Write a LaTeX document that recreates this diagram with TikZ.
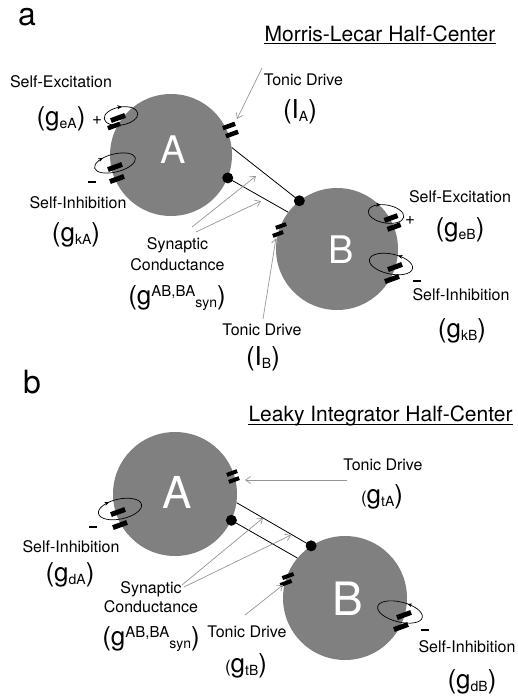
\documentclass[tikz,border=0pt]{standalone}
\usepackage{fontspec}
\setmainfont{TeX Gyre Heros}
\usetikzlibrary{arrows.meta,decorations.markings}

\definecolor{cellgray}{RGB}{128,128,128}
\definecolor{arrowgray}{RGB}{150,150,150}

% subscripts / superscripts set beside the big conductance letters
\newcommand\gsub[1]{\raisebox{-3pt}{\fontsize{14}{14}\selectfont #1}}
\newcommand\gsup[1]{\raisebox{8pt}{\fontsize{15}{15}\selectfont #1}}
\newcommand\lowparen{{\fontsize{17}{17}\selectfont(}}

\begin{document}
\begin{tikzpicture}[x=1pt,y=-1pt,
  cell/.style={circle, fill=cellgray, minimum size=122pt, inner sep=0},
  cellname/.style={text=white, inner sep=0, anchor=base},
  panel/.style={font=\fontsize{32}{32}\selectfont, inner sep=0, anchor=base},
  heading/.style={font=\fontsize{21}{24}\selectfont, inner sep=0, anchor=base},
  lbl/.style={font=\fontsize{16}{18}\selectfont, inner sep=0, anchor=base},
  glbl/.style={font=\fontsize{26}{28}\selectfont, inner sep=0, anchor=base},
  sign/.style={font=\fontsize{17}{17}\selectfont, inner sep=0},
  minus/.style={fill=black, minimum width=8pt, minimum height=2.6pt, inner sep=0},
  chan/.style={fill=black, rectangle, minimum width=13pt, minimum height=4.5pt, inner sep=0, rotate=20},
  syn/.style={circle, fill=black, minimum size=11pt, inner sep=0},
  link/.style={line width=0.8pt},
  pointer/.style={draw=arrowgray, line width=0.7pt, -{Straight Barb[length=5pt,width=7pt]}},
  loopline/.style={line width=0.7pt, postaction={decorate}},
  fwd/.style={decoration={markings, mark=at position #1 with {\arrow{Stealth[length=4.5pt,width=4pt]}}}},
  bwd/.style={decoration={markings, mark=at position #1 with {\arrowreversed{Stealth[length=4.5pt,width=4pt]}}}},
]
\useasboundingbox (0,0) rectangle (517,696);

% ================= panel a : Morris-Lecar =================
\node[panel] (pa) at (27,25) {a};
\node[heading] (ta) at (380,41) {Morris-Lecar Half-Center};
\draw[line width=0.9pt] ([yshift=-2.5pt]ta.base west) -- ([yshift=-2.5pt]ta.base east);

\node[cell] (A) at (171,155) {};
\node[cell] (B) at (337,249) {};
\node[cellname, font=\fontsize{38}{38}\selectfont] (An) at (173.5,163) {A};
\node[cellname, font=\fontsize{38}{38}\selectfont] (Bn) at (341,263) {B};

% reciprocal synapses
\node[syn] (dA) at (A.-22) {};
\node[syn] (dB) at (B.128) {};
\draw[link] (A.7.5) -- (dB.center);
\draw[link] (dA.center) -- (B.143);

% channels on the membranes
\node[chan] (tA1) at (229,126) {};
\node[chan] (tA2) at (232,134) {};
\node[chan, minimum width=15pt, minimum height=5pt] (eA1) at (118,118) {};
\node[chan] (eA2) at (114,126) {};
\node[chan, minimum width=15pt, minimum height=5pt] (kA1) at (115,167) {};
\node[chan, minimum width=15pt, minimum height=5pt] (kA2) at (117,179) {};
\node[chan, minimum width=11pt, minimum height=4pt] (tB1) at (281,226) {};
\node[chan, minimum width=11pt, minimum height=4pt] (tB2) at (278,234) {};
\node[chan, minimum width=14pt, minimum height=5pt] (eB1) at (391,218) {};
\node[chan, minimum width=14pt, minimum height=5pt] (eB2) at (394,227) {};
\node[chan, minimum width=15pt, minimum height=5pt] (kB1) at (395,267) {};
\node[chan, minimum width=15pt, minimum height=5pt] (kB2) at (392,279) {};

% self-feedback loops
\draw[loopline, bwd=0.22, shift={(121,116)}, rotate=10] (0,0) ellipse [x radius=17pt, y radius=9pt];
\draw[loopline, bwd=0.36, shift={(115,163)}, rotate=14] (0,0) ellipse [x radius=21pt, y radius=9pt];
\draw[loopline, bwd=0.33, shift={(386,214)}, rotate=-10] (0,0) ellipse [x radius=18pt, y radius=9pt];
\draw[loopline, fwd=0.2, shift={(391,264)}, rotate=-12] (0,0) ellipse [x radius=22pt, y radius=10pt];

\node[sign] (pA) at (97,120) {+};
\node[minus] (mA) at (92,182) {};
\node[sign] (pB) at (410,220) {+};
\node[minus] (mB) at (417,281) {};

% labels
\node[lbl] (seA) at (61,87) {Self-Excitation};
\node[glbl] (geA) at (61,125) {(g\gsub{eA})};
\node[lbl] (siA) at (78,208) {Self-Inhibition};
\node[glbl] (gkA) at (76,241) {(g\gsub{kA})};
\node[lbl] (tdA) at (303.5,85) {Tonic Drive};
\node[glbl] (IA) at (300,118) {(I\gsub{A})};
\node[lbl] (sy1) at (177.5,249) {Synaptic};
\node[lbl] (sy2) at (177.5,270) {Conductance};
\node[glbl] (gsy) at (177,304) {(g\gsup{AB,BA}\gsub{syn})};
\node[lbl] (tdB) at (262,335) {Tonic Drive};
\node[glbl] (IB) at (263,365) {(I\gsub{B})};
\node[lbl] (seB) at (460,202) {Self-Excitation};
\node[glbl] (geB) at (460,236) {(g\gsub{eB})};
\node[lbl] (siB) at (461,300) {Self-Inhibition};
\node[glbl] (gkB) at (462,337) {(g\gsub{kB})};

% gray pointers
\coordinate (paTA0) at (262,68);
\coordinate (paTA1) at (237,119);
\coordinate (paS0) at (192,227);
\coordinate (paS1) at (256,176);
\coordinate (paS2) at (196,232);
\coordinate (paS3) at (261,201);
\coordinate (paTB0) at (263,319);
\coordinate (paTB1) at (276,238);
\draw[pointer] (paTA0) -- (paTA1);
\draw[pointer] (paS0) -- (paS1);
\draw[pointer] (paS2) -- (paS3);
\draw[pointer] (paTB0) -- (paTB1);

% ================= panel b : leaky integrator =================
\node[panel] (pb) at (32,393) {b};
\node[heading] (tb) at (380.5,421) {Leaky Integrator Half-Center};
\draw[line width=0.9pt] ([yshift=-3.5pt]tb.base west) -- ([yshift=-3.5pt]tb.base east);

\node[cell, minimum size=124pt] (C) at (175,494) {};
\node[cell, minimum size=124pt] (D) at (345,598) {};
\node[cellname, font=\fontsize{44}{44}\selectfont] (Cn) at (177,508) {A};
\node[cellname, font=\fontsize{46}{46}\selectfont] (Dn) at (348,615) {B};

\node[syn] (dC) at (C.-25) {};
\node[syn] (dD) at (D.123) {};
\draw[link] (C.-8) -- (dD.center);
\draw[link] (dC.center) -- (D.140);

\node[chan, minimum width=11pt, minimum height=4pt] (tC1) at (232,473) {};
\node[chan, minimum width=11pt, minimum height=4pt] (tC2) at (234,480) {};
\node[chan, minimum width=15pt, minimum height=5pt] (dC1) at (118,512) {};
\node[chan, minimum width=15pt, minimum height=5pt] (dC2) at (120,525) {};
\node[chan, minimum width=12pt, minimum height=4pt] (tD1) at (288,576) {};
\node[chan, minimum width=12pt, minimum height=4pt] (tD2) at (286,583) {};
\node[chan, minimum width=15pt, minimum height=5pt] (dD1) at (404,615) {};
\node[chan, minimum width=15pt, minimum height=5pt] (dD2) at (401,627) {};

\draw[loopline, bwd=0.34, shift={(120,509)}, rotate=12] (0,0) ellipse [x radius=22pt, y radius=10pt];
\draw[loopline, fwd=0.2, shift={(400,612)}, rotate=-14] (0,0) ellipse [x radius=23pt, y radius=10pt];

\node[minus] (mC) at (93,527) {};
\node[minus] (mD) at (425,630) {};

\node[lbl] (tdC) at (383,470) {Tonic Drive};
\node[glbl] (gtA) at (382,503) {\lowparen g\gsub{tA})};
\node[lbl] (siC) at (71,552) {Self-Inhibition};
\node[glbl] (gdA) at (70,581) {(g\gsub{dA})};
\node[lbl] (sy3) at (151,593) {Synaptic};
\node[lbl] (sy4) at (151,612) {Conductance};
\node[glbl] (gsy2) at (151,645) {(g\gsup{AB,BA}\gsub{syn})};
\node[lbl] (tdD) at (247,637) {Tonic Drive};
\node[glbl] (gtB) at (246,672) {\lowparen g\gsub{tB})};
\node[lbl] (siD) at (467,652) {Self-Inhibition};
\node[glbl] (gdB) at (472,688) {(g\gsub{dB})};

\coordinate (pbTA0) at (347,480);
\coordinate (pbTA1) at (245,480);
\coordinate (pbS0) at (182,585);
\coordinate (pbS1) at (263,518);
\coordinate (pbS2) at (184,587);
\coordinate (pbS3) at (291,535);
\coordinate (pbTB0) at (245,615);
\coordinate (pbTB1) at (283,585);
\draw[pointer] (pbTA0) -- (pbTA1);
\draw[pointer] (pbS0) -- (pbS1);
\draw[pointer] (pbS2) -- (pbS3);
\draw[pointer] (pbTB0) -- (pbTB1);
\end{tikzpicture}
\end{document}
